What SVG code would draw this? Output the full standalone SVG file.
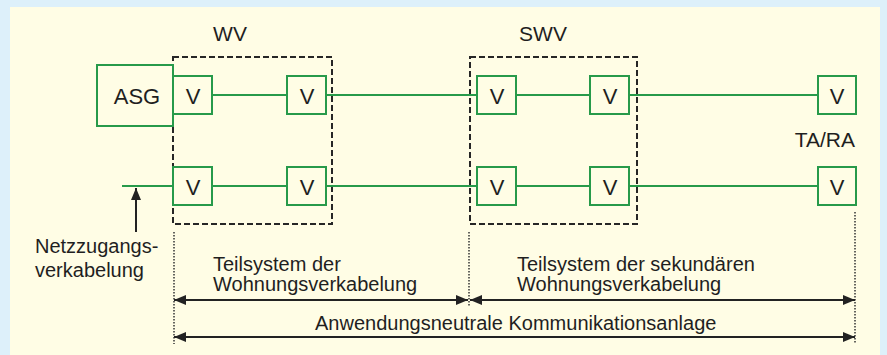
<svg xmlns="http://www.w3.org/2000/svg" width="887" height="355" viewBox="0 0 887 355">
<defs>
<style>
.t{font-family:"Liberation Sans",Arial,sans-serif;fill:#1f1f1f;}
.lbl{font-size:20px;}
.big{font-size:21px;}
.v{font-size:22px;text-anchor:middle;}
.box{fill:none;stroke:#279a4a;stroke-width:2;}
.wire{stroke:#279a4a;stroke-width:2;fill:none;}
.dash{fill:none;stroke:#262626;stroke-width:2;stroke-dasharray:6 3;}
.dot{stroke:#333;stroke-width:1.5;stroke-dasharray:1.5 1.5;fill:none;}
.arr{stroke:#222;stroke-width:2;fill:none;}
</style>
<marker id="ah" viewBox="0 0 12 10" refX="12" refY="5" markerWidth="12" markerHeight="10" markerUnits="userSpaceOnUse" orient="auto-start-reverse">
<path d="M0,0 L12,5 L0,10 Z" fill="#222"/>
</marker>
</defs>
<rect x="0" y="0" width="887" height="355" fill="#ddf0fa"/>
<rect x="10" y="7" width="870" height="348" fill="#fffde5"/>

<g id="WV">
<rect class="dash" x="173" y="57" width="159" height="167"/>
<text class="t big" x="230" y="41" text-anchor="middle">WV</text>
</g>
<g id="SWV">
<rect class="dash" x="470" y="57" width="167" height="167"/>
<text class="t big" x="543" y="41" text-anchor="middle">SWV</text>
</g>

<g id="connectors">
<path class="wire" d="M212,95 H287 M326,95 H477 M516,95 H590 M629,95 H818"/>
<path class="wire" d="M122,186 H173 M212,186 H287 M326,186 H477 M516,186 H590 M629,186 H818"/>
<line class="arr" x1="136" y1="232" x2="136" y2="188" marker-end="url(#ah)"/>
<line class="dot" x1="174" y1="232" x2="174" y2="344"/>
<line class="dot" x1="469" y1="232" x2="469" y2="306"/>
<line class="dot" x1="855" y1="212" x2="855" y2="344"/>
<line class="arr" x1="174" y1="300" x2="468" y2="300" marker-start="url(#ah)" marker-end="url(#ah)"/>
<line class="arr" x1="470" y1="300" x2="855" y2="300" marker-start="url(#ah)" marker-end="url(#ah)"/>
<line class="arr" x1="174" y1="337" x2="855" y2="337" marker-start="url(#ah)" marker-end="url(#ah)"/>
</g>

<g id="ASG">
<rect class="box" x="97" y="65" width="76" height="61"/>
<text class="t v" x="137" y="104">ASG</text>
</g>
<g id="V1"><rect class="box" x="173" y="76" width="39" height="38"/><text class="t v" x="193" y="104">V</text></g>
<g id="V2"><rect class="box" x="287" y="76" width="39" height="38"/><text class="t v" x="307" y="104">V</text></g>
<g id="V3"><rect class="box" x="477" y="76" width="39" height="38"/><text class="t v" x="497" y="104">V</text></g>
<g id="V4"><rect class="box" x="590" y="76" width="39" height="38"/><text class="t v" x="610" y="104">V</text></g>
<g id="V5"><rect class="box" x="818" y="76" width="38" height="38"/><text class="t v" x="837" y="104">V</text></g>
<g id="V6"><rect class="box" x="173" y="167" width="39" height="38"/><text class="t v" x="193" y="195">V</text></g>
<g id="V7"><rect class="box" x="287" y="167" width="39" height="38"/><text class="t v" x="307" y="195">V</text></g>
<g id="V8"><rect class="box" x="477" y="167" width="39" height="38"/><text class="t v" x="497" y="195">V</text></g>
<g id="V9"><rect class="box" x="590" y="167" width="39" height="38"/><text class="t v" x="610" y="195">V</text></g>
<g id="V10"><rect class="box" x="818" y="167" width="38" height="38"/><text class="t v" x="837" y="195">V</text></g>

<g id="labels">
<text class="t big" x="855" y="147" text-anchor="end">TA/RA</text>
<text class="t lbl" x="35" y="253">Netzzugangs-</text>
<text class="t lbl" x="35" y="277">verkabelung</text>
<text class="t lbl" x="213" y="271">Teilsystem der</text>
<text class="t lbl" x="213" y="291">Wohnungsverkabelung</text>
<text class="t lbl" x="517" y="271">Teilsystem der sekundären</text>
<text class="t lbl" x="517" y="291">Wohnungsverkabelung</text>
<text class="t lbl" x="315" y="330">Anwendungsneutrale Kommunikationsanlage</text>
</g>
</svg>
